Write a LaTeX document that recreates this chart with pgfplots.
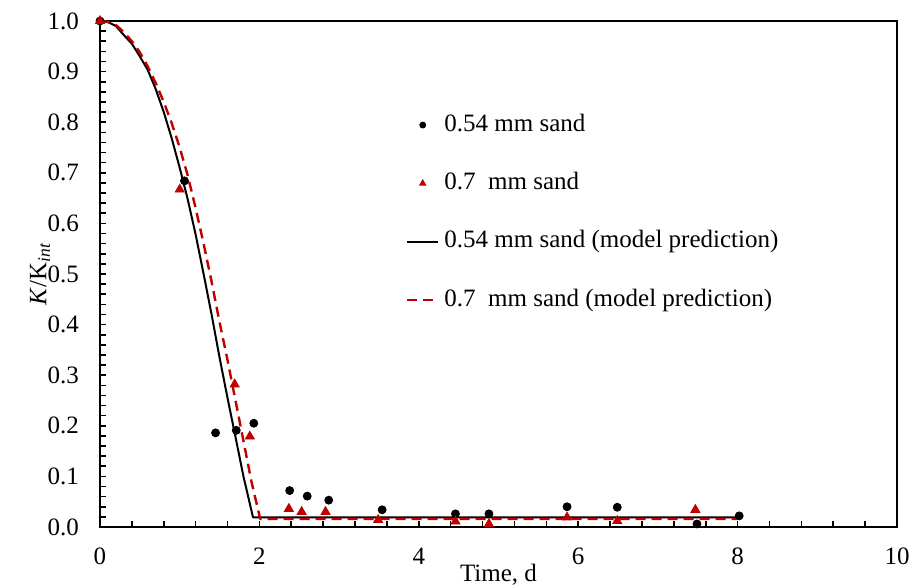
\documentclass[border=0pt]{standalone}
\usepackage{fontspec}
\setmainfont{Liberation Serif}
\usepackage{pgfplots}
\pgfplotsset{compat=1.18}
\definecolor{sandred}{RGB}{192,0,0}

% short legend samples: a single small mark, or a 15.5pt line
\pgfplotsset{
  legmark/.style={legend image code/.code={%
    \draw[mark repeat=2,mark phase=2,##1,mark size=#1]
      plot coordinates {(0pt,0pt) (7.75pt,0pt) (15.5pt,0pt)};}},
  legline/.style={legend image code/.code={%
    \draw[##1] (0pt,0pt) -- (15.5pt,0pt);}},
}

\begin{document}
\begin{tikzpicture}
\begin{axis}[
  name=ax,
  scale only axis,
  width=398.5pt, height=253pt,
  xmin=0, xmax=10, ymin=0, ymax=1,
  xtick={0,2,...,10}, minor x tick num=4,
  ytick={0,0.1,...,1.0}, minor y tick num=4,
  tick pos=left, tick align=inside,
  major tick length=3pt, minor tick length=3pt,
  tick style={black, line width=0.8pt},
  axis line style={line width=1pt},
  font=\fontsize{12.5}{14}\selectfont,
  /pgf/number format/assume math mode=true,
  yticklabel style={/pgf/number format/fixed, /pgf/number format/fixed zerofill,
    /pgf/number format/precision=1, xshift=-7pt},
  xticklabel style={yshift=-7pt},
  xlabel={Time, d},
  ylabel={\textit{K}/K\textsubscript{\textit{int}}},
  xlabel style={at={(axis description cs:0.5,0)}, anchor=center, yshift=-24pt},
  ylabel style={at={(axis description cs:-0.0753,0.5)}, anchor=center},
  clip=false,
  legend cell align=left,
  legend style={at={(0.384,0.824)}, anchor=north west, draw=none, fill=none,
    inner sep=0pt, outer sep=0pt, row sep=14.2pt, column sep=1pt,
    cells={anchor=west},
    nodes={inner sep=1.5pt, text height=9pt, text depth=3pt},
    font=\fontsize{12.5}{14}\selectfont},
]

% measured permeability ratio, 0.54 mm sand
\addplot[only marks, mark=*, mark size=2pt, color=black, legmark=1.5pt]
  coordinates {
  (0,1.0) (1.06,0.684) (1.45,0.186) (1.71,0.191) (1.93,0.205)
  (2.38,0.072) (2.60,0.061) (2.87,0.053) (3.54,0.034) (4.46,0.026)
  (4.88,0.026) (5.86,0.040) (6.49,0.039) (7.49,0.006) (8.02,0.022)
  };
\addlegendentry{0.54 mm sand}

% measured permeability ratio, 0.7 mm sand
\addplot[only marks, mark=triangle*, mark size=2.6pt, color=sandred, legmark=1.8pt]
  coordinates {
  (0,1.0) (1.0,0.667) (1.69,0.282) (1.88,0.179) (2.37,0.036)
  (2.53,0.030) (2.83,0.030) (3.49,0.014) (4.46,0.011) (4.88,0.006)
  (5.86,0.019) (6.49,0.012) (7.47,0.034)
  };
\addlegendentry{0.7\ \ mm sand}

% model prediction, 0.54 mm sand
\addplot[black, line width=1pt, mark=none, line join=round, legline]
  coordinates {
  (0,1.000) (0.1,0.998) (0.2,0.990) (0.3,0.972) (0.4,0.955) (0.5,0.930)
  (0.6,0.903) (0.7,0.865) (0.8,0.820) (0.9,0.768) (1.0,0.710) (1.1,0.648)
  (1.2,0.578) (1.3,0.500) (1.4,0.420) (1.5,0.335) (1.6,0.255) (1.7,0.178)
  (1.8,0.100) (1.92,0.019) (8.0,0.019)
  };
\addlegendentry{0.54 mm sand (model prediction)}

% model prediction, 0.7 mm sand
\addplot[sandred, line width=1.2pt, dash pattern=on 5pt off 3pt, mark=none, line join=round, legline]
  coordinates {
  (0,1.000) (0.1,0.998) (0.2,0.992) (0.3,0.978) (0.4,0.960) (0.5,0.938)
  (0.6,0.910) (0.7,0.877) (0.8,0.840) (0.9,0.798) (1.0,0.750) (1.1,0.695)
  (1.2,0.630) (1.3,0.560) (1.4,0.485) (1.5,0.405) (1.6,0.330) (1.7,0.250)
  (1.8,0.170) (1.9,0.090) (2.01,0.016) (8.0,0.016)
  };
\addlegendentry{0.7\ \ mm sand (model prediction)}

\end{axis}
\pgfresetboundingbox
\path[use as bounding box] ([xshift=-50pt,yshift=-30pt]ax.south west) rectangle ([xshift=7.5pt,yshift=10.5pt]ax.north east);
\end{tikzpicture}
\end{document}
